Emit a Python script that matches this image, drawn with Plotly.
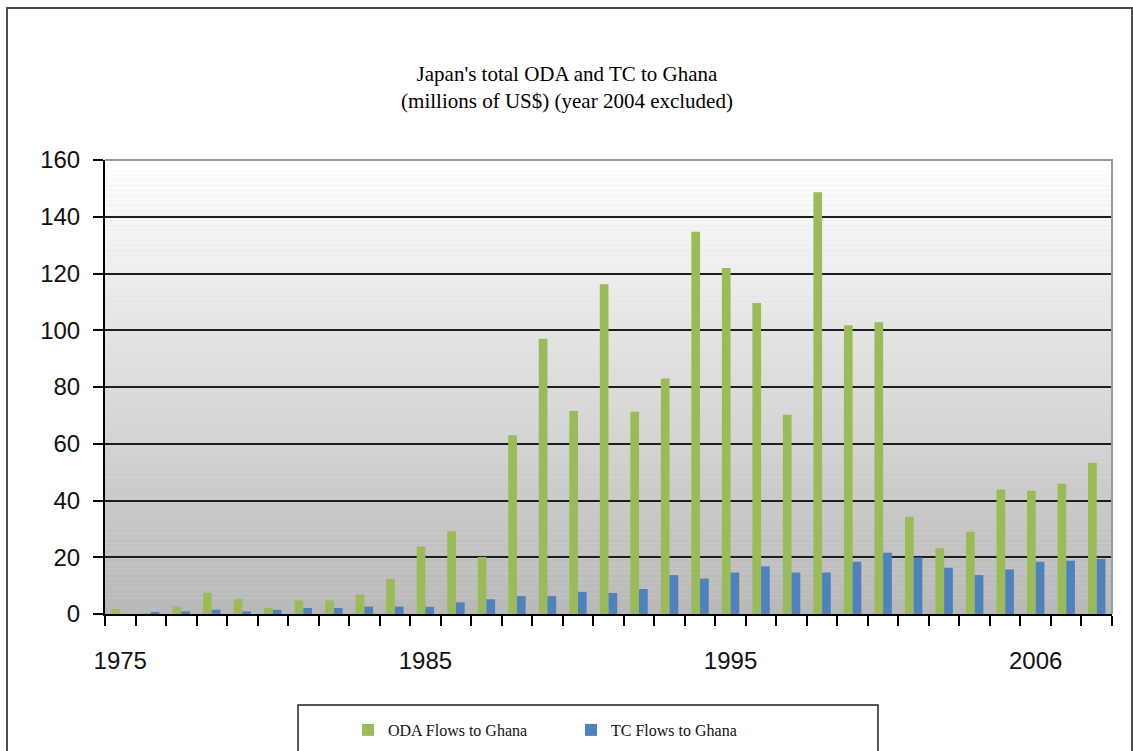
import plotly.graph_objects as go

# Years shown on the category axis (2004 left out of the series)
years = [str(y) for y in range(1975, 2004)] + ["2005", "2006", "2007", "2008"]
labeled_years = ["1975", "1985", "1995", "2006"]

# Japan's total ODA to Ghana, millions of US$
oda = [1.7, 0.2, 2.6, 7.5, 5.3, 2.1, 4.8, 4.8, 6.9, 12.4,
       23.8, 29.1, 20.1, 63.0, 97.0, 71.5, 116.2, 71.3, 83.0, 134.7,
       121.9, 109.6, 70.2, 148.6, 101.8, 102.8, 34.3, 23.2, 29.0,
       43.9, 43.4, 45.9, 53.3]

# Technical cooperation (TC) to Ghana, millions of US$
tc = [0.0, 0.5, 0.9, 1.5, 0.9, 1.5, 2.1, 2.1, 2.6, 2.6,
      2.5, 4.1, 5.2, 6.3, 6.3, 7.8, 7.4, 8.8, 13.7, 12.5,
      14.6, 16.8, 14.6, 14.6, 18.4, 21.6, 19.9, 16.3, 13.7,
      15.7, 18.4, 18.8, 19.4]

y_ticks = [0, 20, 40, 60, 80, 100, 120, 140, 160]

W, H = 1133, 751

fig = go.Figure()
fig.add_trace(go.Bar(x=years, y=oda, name="ODA Flows to Ghana",
                     marker=dict(color="#9BBB59", line=dict(width=0))))
fig.add_trace(go.Bar(x=years, y=tc, name="TC Flows to Ghana",
                     marker=dict(color="#4F81BD", line=dict(width=0))))

# Vertical white-to-grey gradient behind the plot area, built from thin bands
shapes = []
n_bands = 90
top, bottom = (255, 255, 255), (184, 184, 184)
for i in range(n_bands):
    t = (i + 0.5) / n_bands
    c = [round(bottom[k] + (top[k] - bottom[k]) * t) for k in range(3)]
    shapes.append(dict(type="rect", xref="paper", yref="paper",
                       x0=0, x1=1, y0=i / n_bands, y1=(i + 1) / n_bands,
                       fillcolor=f"rgb({c[0]},{c[1]},{c[2]})",
                       line=dict(width=0), layer="below"))

# Light grey frame on the top and right edges of the plot area
shapes.append(dict(type="path", xref="paper", yref="paper",
                   path="M 0,1 L 1,1 L 1,0",
                   line=dict(color="#9a9a9a", width=2), layer="above"))

# Outer chart frame
shapes.append(dict(type="rect", xref="paper", yref="paper",
                   x0=-0.0973, x1=1.0199, y0=-0.33, y1=1.3348,
                   line=dict(color="#4a4a4a", width=2), fillcolor="rgba(0,0,0,0)",
                   layer="above"))

# Legend frame
shapes.append(dict(type="rect", xref="paper", yref="paper",
                   x0=0.1917, x1=0.7676, y0=-0.33, y1=-0.2004,
                   line=dict(color="#222222", width=1.5), fillcolor="white",
                   layer="below"))

fig.update_layout(
    width=W, height=H,
    margin=dict(l=105, r=21, t=160, b=137),
    paper_bgcolor="white",
    plot_bgcolor="rgb(220,220,220)",
    barmode="group", bargap=0.43, bargroupgap=0,
    title=dict(
        text="Japan's total ODA and TC to Ghana<br>(millions of US$) (year 2004 excluded)",
        x=567 / W, xref="container", xanchor="center",
        y=1 - 81 / H, yref="container", yanchor="middle",
        font=dict(family="Liberation Serif, serif", size=21, color="black"),
    ),
    shapes=shapes,
    showlegend=True,
    legend=dict(
        orientation="h",
        x=348 / W, xref="container", xanchor="left",
        y=1 - 730 / H, yref="container", yanchor="middle",
        font=dict(family="Liberation Serif, serif", size=16, color="#111111"),
        bgcolor="rgba(0,0,0,0)", borderwidth=0,
        entrywidthmode="pixels", entrywidth=178,
        itemsizing="constant",
    ),
    xaxis=dict(
        type="category",
        tickmode="array", tickvals=years,
        ticktext=[y if y in labeled_years else "" for y in years],
        tickson="boundaries", tickangle=0, automargin=False,
        ticklabelstandoff=24,
        ticks="outside", ticklen=10, tickwidth=2, tickcolor="black",
        showline=True, linecolor="black", linewidth=2,
        showgrid=False,
        tickfont=dict(family="Liberation Sans", size=24, color="#111111"),
        range=[-0.5, len(years) - 0.5],
    ),
    yaxis=dict(
        range=[0, 160], tickmode="array", tickvals=y_ticks, automargin=False,
        ticklabelstandoff=8,
        ticks="outside", ticklen=10, tickwidth=1.5, tickcolor="black",
        showline=True, linecolor="black", linewidth=2,
        showgrid=True, gridcolor="#1e1e1e", gridwidth=2,
        zeroline=False,
        tickfont=dict(family="Liberation Sans", size=24, color="#111111"),
    ),
)

fig.write_html("out.html")
